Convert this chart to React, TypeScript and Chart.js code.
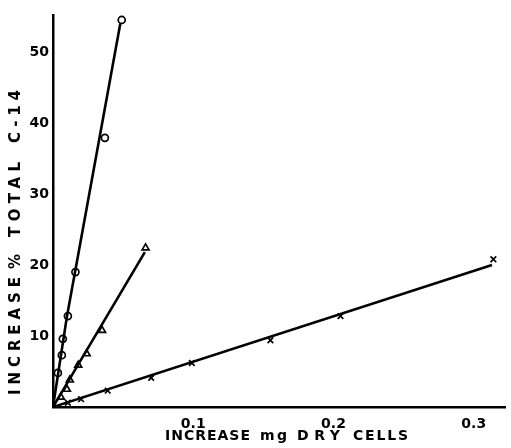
import { useEffect, useRef } from "react";
import { Chart, registerables } from "chart.js";

Chart.register(...registerables);

// Circles (o)
const circleX = [0.0035, 0.0063, 0.007, 0.0106, 0.016, 0.037, 0.049];
const circleY = [4.8, 7.3, 9.6, 12.8, 19.0, 37.9, 54.5];
const circleFitX = [0, 0.0099, 0.048];
const circleFitY = [0, 12.7, 54.0];

// Triangles
const triX = [0.0056, 0.0099, 0.012, 0.018, 0.024, 0.035, 0.066];
const triY = [1.4, 2.5, 3.8, 5.9, 7.5, 10.8, 22.4];
const triFitX = [0, 0.0655];
const triFitY = [0, 21.8];

// Crosses (x)
const crossX = [0.0106, 0.02, 0.039, 0.07, 0.099, 0.155, 0.205, 0.314];
const crossY = [0.6, 1.1, 2.3, 4.1, 6.2, 9.4, 12.8, 20.8];
const crossFitX = [0, 0.313];
const crossFitY = [0, 20.0];

const xTicks = [0.1, 0.2, 0.3];
const yTicks = [10, 20, 30, 40, 50];
const xTitle = "INCREASE mg DRY CELLS";
const yTitle = "INCREASE % TOTAL C-14";

function pts(xs: number[], ys: number[]) {
  return xs.map((x, i) => ({ x, y: ys[i] }));
}

const FONT = "'DejaVu Sans', sans-serif";

export default function App() {
  const ref = useRef<HTMLCanvasElement>(null);

  useEffect(() => {
    document.body.style.margin = "0";
    const canvas = ref.current;
    if (!canvas) return;

    // draw words of a title, each stretched into its [start, end] span
    const drawWords = (ctx: any, words: string[], spans: number[][]) => {
      ctx.textAlign = "left";
      words.forEach((w, i) => {
        const [a, b] = spans[i];
        ctx.letterSpacing = "0px";
        const nat = ctx.measureText(w).width;
        const ls = w.length > 1 ? (b - a - nat) / (w.length - 1) : 0;
        ctx.letterSpacing = `${ls}px`;
        ctx.fillText(w, a, 0);
      });
      ctx.letterSpacing = "0px";
    };

    const titlePlugin = {
      id: "titles",
      afterDraw(chart: any) {
        const ctx = chart.ctx;
        ctx.save();
        ctx.fillStyle = "#000";
        ctx.textBaseline = "middle";
        ctx.font = `bold 14px ${FONT}`;
        ctx.save();
        ctx.translate(0, 436);
        drawWords(ctx, xTitle.split(" "), [
          [165, 250],
          [260, 287],
          [297, 340],
          [353, 408],
        ]);
        ctx.restore();
        ctx.font = `bold 15px ${FONT}`;
        ctx.translate(16, 395);
        ctx.rotate(-Math.PI / 2);
        drawWords(ctx, yTitle.split(" "), [
          [0, 118],
          [126, 146],
          [158, 233],
          [252, 305],
        ]);
        ctx.restore();
      },
    };

    const lineDs = (xs: number[], ys: number[]) => ({
      data: pts(xs, ys),
      showLine: true,
      borderColor: "#000",
      borderWidth: 2.6,
      pointRadius: 0,
      fill: false,
    });
    const markDs = (xs: number[], ys: number[], style: string, r: number) => ({
      data: pts(xs, ys),
      showLine: false,
      pointStyle: style,
      pointRadius: r,
      borderColor: "#000",
      borderWidth: 1.7,
      backgroundColor: "rgba(0,0,0,0)",
    });

    const chart = new Chart(canvas, {
      type: "scatter",
      data: {
        datasets: [
          lineDs(circleFitX, circleFitY),
          lineDs(triFitX, triFitY),
          lineDs(crossFitX, crossFitY),
          markDs(circleX, circleY, "circle", 3.5),
          markDs(triX, triY, "triangle", 4),
          markDs(crossX, crossY, "crossRot", 4),
        ] as any,
      },
      options: {
        animation: false,
        responsive: false,
        maintainAspectRatio: false,
        layout: { padding: { top: 15, right: 0, left: 0, bottom: 0 } },
        plugins: { legend: { display: false }, tooltip: { enabled: false } },
        scales: {
          x: {
            type: "linear",
            min: 0,
            max: 0.3225,
            grid: { display: false, drawTicks: false },
            border: { display: true, color: "#000", width: 2.5 },
            ticks: {
              font: { family: FONT, size: 14, weight: "bold" },
              color: "#000",
              padding: 9,
              maxRotation: 0,
              callback: (v: any) => (xTicks.includes(Number(v)) ? String(v) : ""),
            },
            afterBuildTicks: (s: any) => {
              s.ticks = xTicks.map((v) => ({ value: v }));
            },
            afterFit: (s: any) => {
              s.height = 41;
            },
          },
          y: {
            type: "linear",
            min: 0,
            max: 55.2,
            grid: { display: false, drawTicks: false },
            border: { display: true, color: "#000", width: 2.5 },
            ticks: {
              font: { family: FONT, size: 14, weight: "bold" },
              color: "#000",
              padding: 4,
              callback: (v: any) => (yTicks.includes(Number(v)) ? String(v) : ""),
            },
            afterBuildTicks: (s: any) => {
              s.ticks = yTicks.map((v) => ({ value: v }));
            },
            afterFit: (s: any) => {
              s.width = 53;
            },
          },
        },
      } as any,
      plugins: [titlePlugin],
    });

    return () => chart.destroy();
  }, []);

  return (
    <div style={{ position: "absolute", left: 0, top: 0, width: 511, height: 448, background: "#fff" }}>
      <canvas ref={ref} width={511} height={448} />
    </div>
  );
}
